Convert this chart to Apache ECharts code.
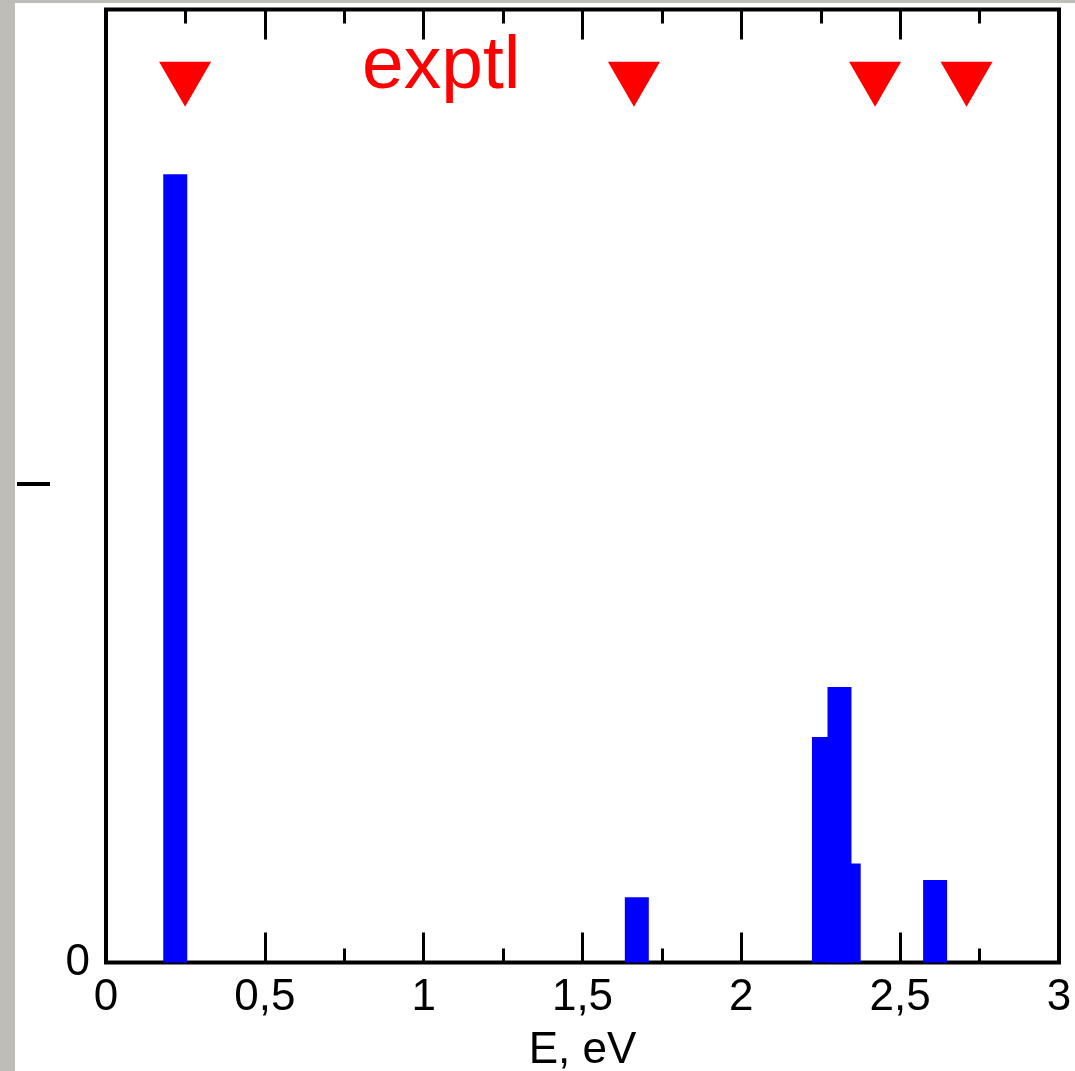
<!DOCTYPE html>
<html>
<head>
<meta charset="utf-8">
<script src="https://cdn.jsdelivr.net/npm/echarts@6/dist/echarts.min.js"></script>
<style>
html, body {
  margin: 0;
  padding: 0;
  width: 1075px;
  height: 1071px;
  overflow: hidden;
  background:
    linear-gradient(to right, #bebdb8 15px, transparent 15px),
    linear-gradient(to bottom, #bebdb8 3px, #ffffff 3px);
}
#chart {
  width: 1075px;
  height: 1071px;
}
</style>
</head>
<body>
<div id="chart"></div>
<script>
// calculated lines: energy (eV) and intensity
let lineEnergy = [0.218, 1.671, 2.260, 2.309, 2.338, 2.610];
let lineHeight = [1.654, 0.137, 0.473, 0.578, 0.208, 0.173];
let lineWidth = 0.0755; // width of one bar, eV

// experimental positions (red triangles)
let exptlEnergy = [0.249, 1.662, 2.421, 2.709];
let exptlLevel = 1.843;

let xTicks = [0, 0.5, 1, 1.5, 2, 2.5, 3];
let yLabels = { 0: "0", 1: "{d| }{s| }" };

let font = "Liberation Sans";

let barData = lineEnergy.map((e, i) => [e, lineHeight[i]]);
let exptlData = exptlEnergy.map(e => [e, exptlLevel]);

let tickStyle = {
  show: true,
  inside: true,
  length: 30,
  lineStyle: { color: "#000", width: 3 }
};
let minorStyle = {
  show: true,
  splitNumber: 2,
  length: 14,
  lineStyle: { color: "#000", width: 3 }
};

let option = {
  animation: false,
  backgroundColor: "transparent",
  textStyle: { fontFamily: font },
  title: {
    text: "exptl",
    left: 362,
    top: 30,
    padding: 0,
    textStyle: {
      color: "#ff0000",
      fontSize: 75,
      fontWeight: "normal",
      fontFamily: font
    }
  },
  grid: {
    left: 106,
    right: 16,
    top: 9.5,
    bottom: 108.5,
    outerBoundsMode: "none",
    containLabel: false,
    show: true,
    borderColor: "#000",
    borderWidth: 4,
    backgroundColor: "#fff"
  },
  xAxis: [
    {
      type: "value",
      min: xTicks[0],
      max: xTicks[xTicks.length - 1],
      interval: 0.5,
      position: "bottom",
      name: "E, eV",
      nameLocation: "middle",
      nameGap: 66,
      nameTextStyle: { color: "#000", fontSize: 44, fontFamily: font },
      axisLine: { show: false },
      axisTick: tickStyle,
      minorTick: minorStyle,
      splitLine: { show: false },
      axisLabel: {
        color: "#000",
        fontSize: 44,
        fontFamily: font,
        margin: 13,
        formatter: v => String(v).replace(".", ",")
      }
    },
    {
      type: "value",
      min: xTicks[0],
      max: xTicks[xTicks.length - 1],
      interval: 0.5,
      position: "top",
      axisLine: { show: false },
      axisTick: tickStyle,
      minorTick: minorStyle,
      splitLine: { show: false },
      axisLabel: { show: false }
    }
  ],
  yAxis: {
    type: "value",
    min: 0,
    max: 2,
    interval: 1,
    axisLine: { show: false },
    axisTick: { show: false },
    splitLine: { show: false },
    axisLabel: {
      color: "#000",
      fontSize: 44,
      fontFamily: font,
      margin: 16,
      formatter: v => yLabels[v] || "",
      rich: {
        d: {
          width: 33,
          height: 4,
          verticalAlign: "top",
          backgroundColor: "#000"
        },
        s: {
          width: 40,
          height: 8
        }
      }
    }
  },
  series: [
    {
      type: "custom",
      xAxisIndex: 0,
      data: barData,
      renderItem: (params, api) => {
        let e = api.value(0);
        let h = api.value(1);
        let p0 = api.coord([e - lineWidth / 2, h]);
        let p1 = api.coord([e + lineWidth / 2, 0]);
        return {
          type: "rect",
          shape: { x: p0[0], y: p0[1], width: p1[0] - p0[0], height: p1[1] - p0[1] },
          style: { fill: "#0000ff" }
        };
      }
    },
    {
      type: "scatter",
      xAxisIndex: 0,
      data: exptlData,
      symbol: "triangle",
      symbolRotate: 180,
      symbolSize: [52, 45],
      itemStyle: { color: "#ff0000", opacity: 1 }
    }
  ]
};

let myChart = echarts.init(document.getElementById("chart"));
myChart.setOption(option);
</script>
</body>
</html>
